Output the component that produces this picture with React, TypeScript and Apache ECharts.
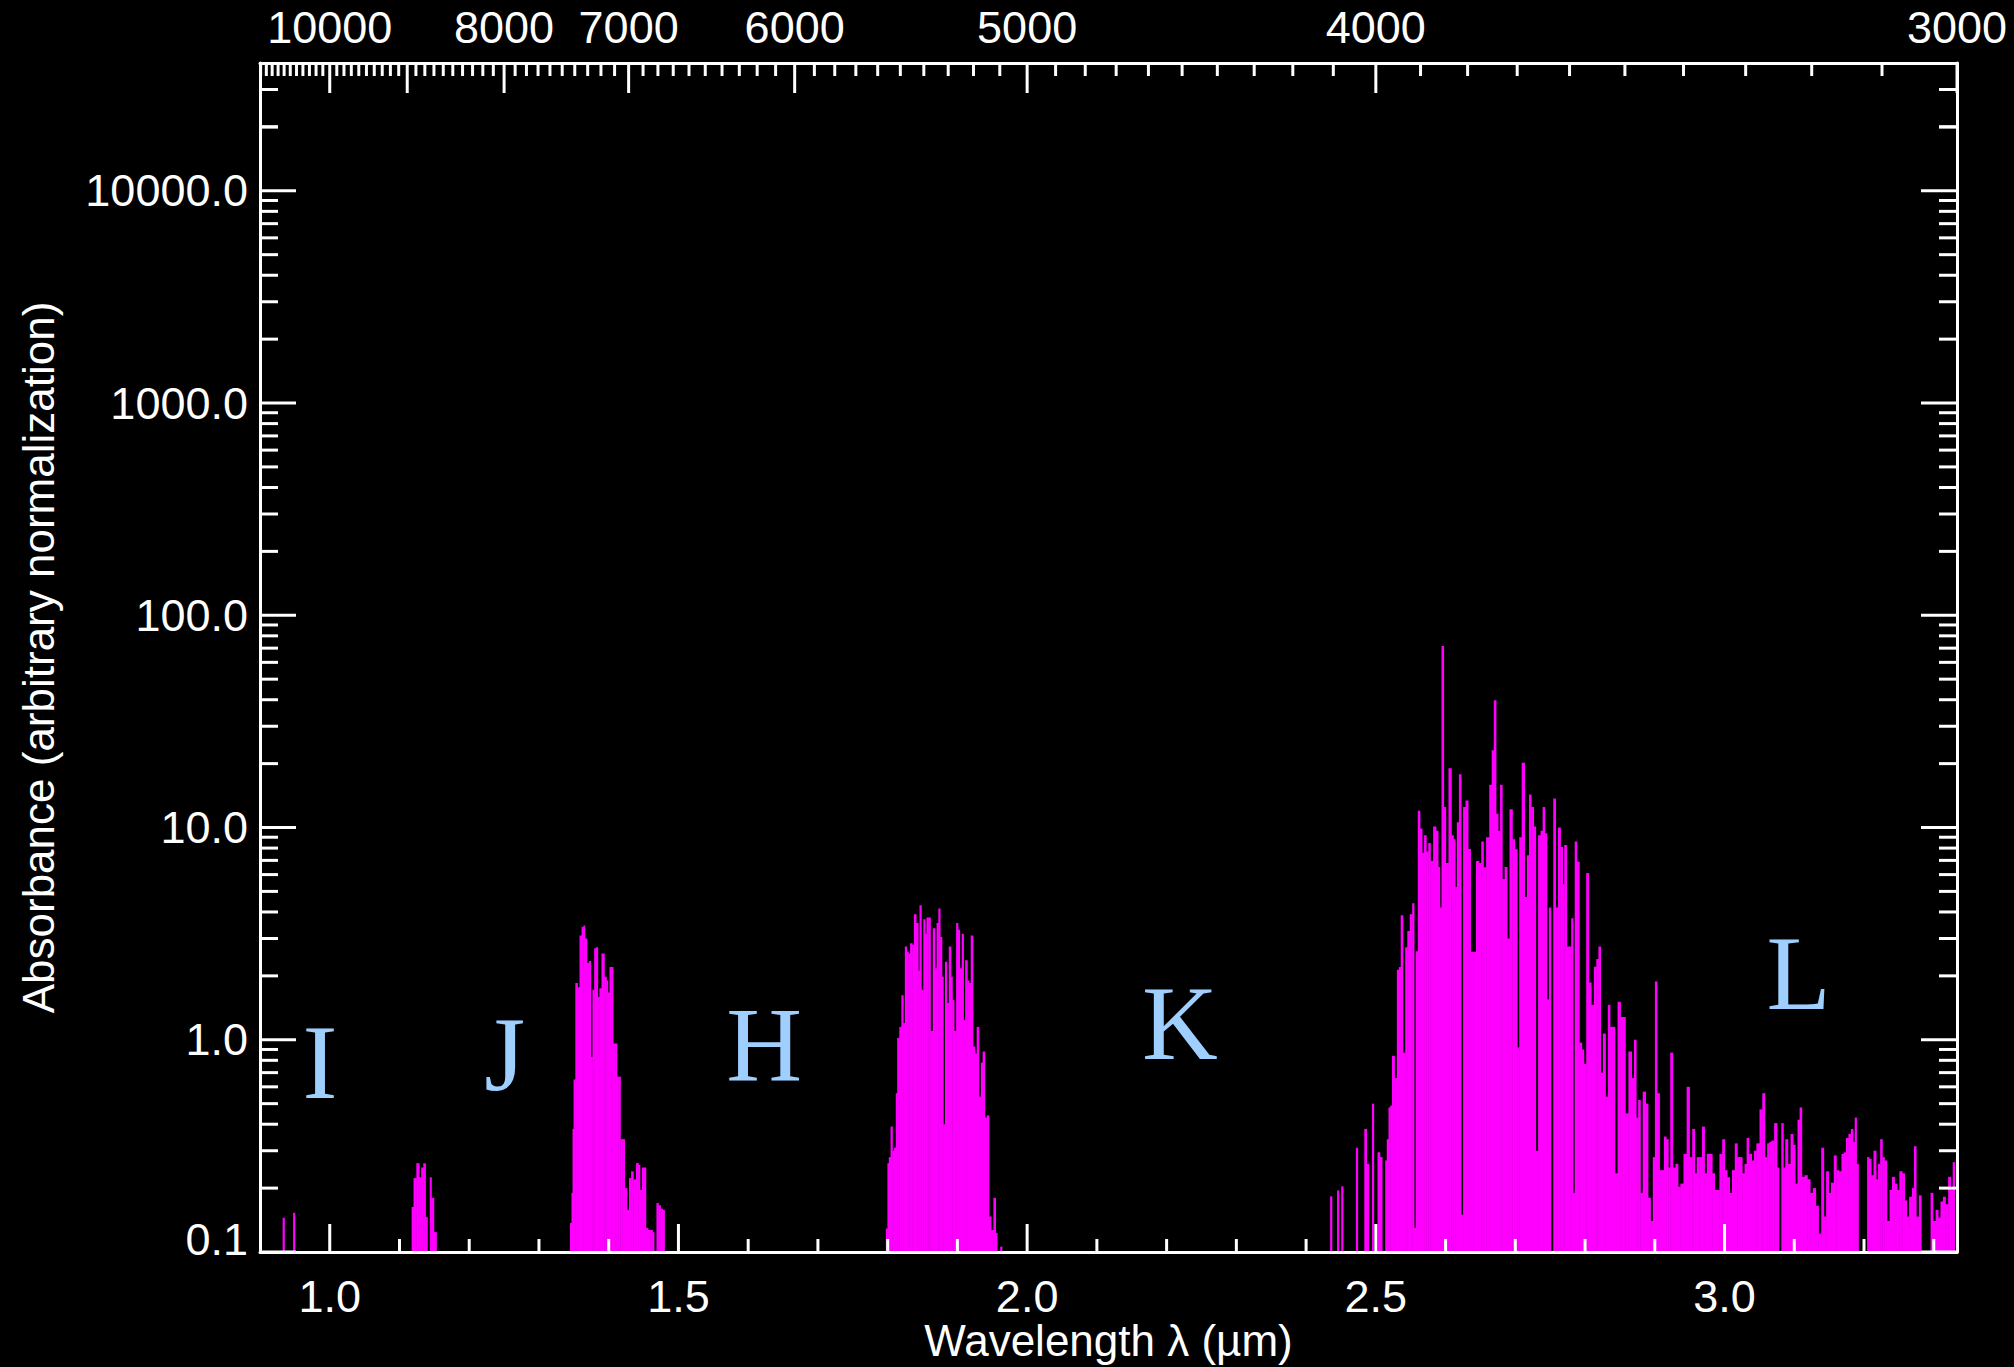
import React, { useEffect, useRef } from "react";
import * as echarts from "echarts";

// ---------- axis ranges ----------
const WL_MIN = 0.9;
const WL_MAX = 10000 / 3000;
const ABS_MIN = 0.1;
const ABS_MAX = 40000;

// ---------- spectrum (wavelength in µm, absorbance) ----------
const bandA_wl = [0.934, 0.949];
const bandA_abs = [0.145, 0.153];

const bandB_wl = [1.119, 1.122, 1.127, 1.13, 1.133, 1.136, 1.139, 1.145, 1.147, 1.152];
const bandB_abs = [0.163, 0.223, 0.262, 0.225, 0.25, 0.262, 0.146, 0.225, 0.18, 0.124];

const bandC_wl = [
  1.346, 1.348, 1.349, 1.351, 1.354, 1.357, 1.36, 1.363, 1.365, 1.367,
  1.371, 1.373, 1.376, 1.378, 1.381, 1.383, 1.386, 1.388, 1.392, 1.396,
  1.398, 1.4, 1.403, 1.405, 1.408, 1.411, 1.413, 1.415, 1.419, 1.421,
  1.425, 1.428, 1.431, 1.434, 1.437, 1.442, 1.444, 1.446, 1.45, 1.452,
  1.455, 1.458, 1.462, 1.464, 1.47, 1.473, 1.476, 1.479,
];
const bandC_abs = [
  0.137, 0.19, 0.38, 0.65, 1.85, 1.77, 3.1, 3.4, 3.45, 3.0,
  2.3, 2.35, 0.83, 1.72, 2.7, 2.73, 1.59, 1.75, 2.55, 1.98,
  1.9, 1.67, 2.2, 2.2, 0.96, 0.96, 0.67, 0.67, 0.34, 0.34,
  0.2, 0.158, 0.223, 0.24, 0.22, 0.262, 0.257, 0.196, 0.25, 0.25,
  0.13, 0.127, 0.127, 0.124, 0.17, 0.166, 0.16, 0.158,
];

const bandD_wl = [
  1.799, 1.801, 1.803, 1.806, 1.808, 1.811, 1.813, 1.815, 1.819, 1.821,
  1.824, 1.826, 1.829, 1.831, 1.834, 1.837, 1.839, 1.843, 1.845, 1.847,
  1.85, 1.853, 1.855, 1.857, 1.86, 1.863, 1.867, 1.869, 1.872, 1.874,
  1.877, 1.879, 1.881, 1.884, 1.886, 1.89, 1.892, 1.894, 1.897, 1.9,
  1.902, 1.905, 1.908, 1.91, 1.913, 1.916, 1.918, 1.921, 1.924, 1.927,
  1.929, 1.933, 1.935, 1.938, 1.941, 1.944, 1.947, 1.95, 1.954, 1.956,
  1.963,
];
const bandD_abs = [
  0.129, 0.262, 0.28, 0.39, 0.3, 0.31, 0.56, 1.02, 1.15, 1.62,
  1.2, 2.75, 2.6, 2.55, 2.85, 2.8, 3.9, 3.55, 2.12, 4.3,
  1.72, 3.7, 3.16, 3.77, 3.77, 1.1, 3.35, 2.17, 3.55, 4.15,
  3.05, 1.98, 0.4, 2.33, 1.49, 2.75, 1.98, 1.54, 1.1, 3.55,
  3.3, 2.17, 3.16, 1.24, 2.37, 1.9, 1.85, 3.1, 0.93, 0.86,
  1.15, 0.54, 0.78, 0.88, 0.43, 0.44, 0.147, 0.127, 0.18, 0.123,
  0.106,
];

const bandE1_wl = [
  2.436, 2.446, 2.452, 2.473, 2.485, 2.489, 2.496, 2.504, 2.508, 2.515,
  2.517, 2.52, 2.522, 2.525, 2.529, 2.532, 2.535, 2.537, 2.541, 2.544,
  2.547, 2.551, 2.554, 2.556, 2.559, 2.562, 2.565, 2.568, 2.571, 2.574,
  2.577, 2.58, 2.585, 2.588, 2.591, 2.593, 2.596, 2.599, 2.602, 2.607,
  2.61, 2.613, 2.615, 2.618, 2.621, 2.624, 2.627, 2.631, 2.634, 2.638,
  2.642, 2.646, 2.65, 2.653, 2.656, 2.661, 2.665, 2.668, 2.671, 2.674,
  2.677, 2.68, 2.683, 2.687, 2.69, 2.694, 2.698, 2.701, 2.705, 2.707,
  2.712, 2.715, 2.719, 2.721, 2.725, 2.728, 2.731, 2.735, 2.738, 2.741,
  2.744, 2.747, 2.75,
];
const bandE1_abs = [
  0.183, 0.195, 0.204, 0.31, 0.38, 0.26, 0.5, 0.295, 0.28, 0.27,
  0.34, 0.48, 0.49, 0.84, 0.66, 2.14, 2.2, 3.86, 0.87, 2.73,
  3.25, 3.9, 4.4, 0.13, 2.61, 12.0, 9.9, 7.6, 9.2, 7.7,
  8.46, 6.96, 10.1, 9.65, 6.52, 4.2, 71.7, 12.5, 6.8, 19.0,
  9.2, 8.8, 5.24, 10.6, 17.8, 0.15, 12.5, 13.4, 7.92, 2.6,
  2.6, 6.96, 6.8, 8.6, 6.5, 9.0, 15.9, 23.1, 39.8, 11.6,
  9.65, 15.9, 5.72, 6.52, 3.0, 12.2, 8.8, 7.9, 0.92, 9.0,
  20.2, 4.7, 7.4, 14.3, 12.5, 10.1, 0.3, 9.2, 9.65, 12.5,
  9.4, 1.55, 4.2,
];

const bandE2_wl = [
  2.756, 2.76, 2.763, 2.767, 2.769, 2.772, 2.776, 2.779, 2.782, 2.784,
  2.787, 2.79, 2.794, 2.797, 2.8, 2.804, 2.807, 2.811, 2.815, 2.818,
  2.821, 2.824, 2.828, 2.831, 2.835, 2.837, 2.841, 2.845, 2.849, 2.853,
  2.856, 2.86, 2.865, 2.869, 2.872, 2.875, 2.878, 2.881, 2.885, 2.889,
  2.892, 2.896, 2.899, 2.902, 2.905, 2.909, 2.912, 2.915, 2.918, 2.921,
  2.924, 2.928, 2.932, 2.935, 2.939, 2.944, 2.948, 2.952, 2.956, 2.959,
  2.962, 2.966, 2.97, 2.973, 2.977, 2.981, 2.984, 2.988, 2.991, 2.995,
  2.999, 3.002, 3.006, 3.009, 3.013, 3.017, 3.02, 3.024, 3.027, 3.031,
  3.033, 3.037, 3.041, 3.044, 3.048,
];
const bandE2_abs = [
  13.7, 4.2, 10.0, 8.1, 5.4, 8.28, 2.75, 2.75, 3.74, 0.19,
  8.6, 6.9, 0.97, 0.9, 0.77, 6.1, 1.86, 1.46, 2.21, 2.4,
  2.75, 0.7, 1.07, 0.54, 1.46, 1.15, 1.15, 0.235, 1.51, 1.28,
  1.28, 0.45, 0.88, 0.66, 1.0, 0.43, 0.52, 0.19, 0.57, 0.5,
  0.18, 0.14, 0.28, 1.88, 0.56, 0.243, 0.243, 0.35, 0.34, 0.25,
  0.87, 0.25, 0.26, 0.203, 0.21, 0.29, 0.6, 0.28, 0.38, 0.235,
  0.28, 0.28, 0.39, 0.235, 0.29, 0.29, 0.235, 0.196, 0.196, 0.29,
  0.34, 0.243, 0.225, 0.19, 0.243, 0.325, 0.28, 0.28, 0.235, 0.26,
  0.345, 0.29, 0.27, 0.3, 0.325,
];

const bandE3_wl = [
  3.053, 3.056, 3.06, 3.063, 3.066, 3.069, 3.074, 3.077, 3.083, 3.086,
  3.089, 3.093, 3.097, 3.1, 3.103, 3.107, 3.109, 3.113, 3.117, 3.121,
  3.125, 3.129, 3.133, 3.137, 3.141, 3.144, 3.148, 3.151, 3.155, 3.159,
  3.162, 3.166, 3.17, 3.173, 3.176, 3.18, 3.183, 3.186, 3.188, 3.191,
  3.206, 3.209, 3.212, 3.216, 3.219, 3.222, 3.225, 3.228, 3.231, 3.235,
  3.239, 3.242, 3.246, 3.249, 3.253, 3.257, 3.26, 3.263, 3.267, 3.271,
  3.273, 3.277, 3.281, 3.297, 3.301, 3.305, 3.308, 3.312, 3.315, 3.319,
  3.323, 3.326, 3.329,
];
const bandE3_abs = [
  0.47, 0.56, 0.28, 0.325, 0.33, 0.335, 0.405, 0.25, 0.405, 0.25,
  0.34, 0.26, 0.36, 0.32, 0.21, 0.42, 0.48, 0.226, 0.23, 0.22,
  0.19, 0.2, 0.165, 0.122, 0.31, 0.147, 0.24, 0.19, 0.212, 0.285,
  0.243, 0.24, 0.29, 0.295, 0.345, 0.36, 0.38, 0.33, 0.43, 0.26,
  0.28, 0.275, 0.23, 0.3, 0.22, 0.26, 0.34, 0.28, 0.27, 0.14,
  0.196, 0.226, 0.21, 0.196, 0.24, 0.235, 0.175, 0.147, 0.182, 0.2,
  0.315, 0.147, 0.185, 0.19, 0.14, 0.158, 0.145, 0.173, 0.182, 0.168,
  0.226, 0.196, 0.265,
];

// ---------- photometric band labels ----------
const bandNames = ["I", "J", "H", "K", "L"];
const bandLabelWl = [0.986, 1.251, 1.623, 2.219, 3.106];
const bandLabelAbs = [0.78, 0.85, 0.955, 1.19, 2.05];

// ---------- ticks ----------
const bottomMajorTicks = [1.0, 1.5, 2.0, 2.5, 3.0];
const bottomMinorTicks = [1.1, 1.2, 1.3, 1.4, 1.6, 1.7, 1.8, 1.9, 2.1, 2.2, 2.3, 2.4, 2.6, 2.7, 2.8, 2.9, 3.1, 3.2, 3.3];
const topLabelWavenumbers = [10000, 8000, 7000, 6000, 5000, 4000, 3000];
const topMajorWavenumbers = [10000, 9000, 8000, 7000, 6000, 5000, 4000, 3000];
const topMinorStepWn = 100;
const yMajorTicks = [0.1, 1, 10, 100, 1000, 10000];
const yMinorFactors = [2, 3, 4, 5, 6, 7, 8, 9];

// ---------- styles ----------
const MAGENTA = "#ff00ff";
const BAND_COLOR = "#9fcfff";
const WHITE = "#ffffff";
const SANS = "Liberation Sans";
const TICK_FONT = 45;
const TITLE_FONT = 44;
const JOIN_PX = 4.0;
const LINE_HALF = 1.1;

// ---------- build tables ----------
const specPairs: number[][] = [];
[
  [bandA_wl, bandA_abs],
  [bandB_wl, bandB_abs],
  [bandC_wl, bandC_abs],
  [bandD_wl, bandD_abs],
  [bandE1_wl, bandE1_abs],
  [bandE2_wl, bandE2_abs],
  [bandE3_wl, bandE3_abs],
].forEach(([w, a]) => w.forEach((x, i) => specPairs.push([x, a[i]])));
specPairs.sort((p, q) => p[0] - q[0]);
const specWl = specPairs.map((p) => p[0]);

const tickItems: number[][] = [];
bottomMajorTicks.forEach((v) => tickItems.push([v, ABS_MIN, 0, -28]));
bottomMinorTicks.forEach((v) => tickItems.push([v, ABS_MIN, 0, -13]));
const topMajorSet = new Set(topMajorWavenumbers);
topMajorWavenumbers.forEach((n) => tickItems.push([10000 / n, ABS_MAX, 0, 30]));
for (let n = 3000 + topMinorStepWn; n < 10000 / WL_MIN; n += topMinorStepWn) {
  if (!topMajorSet.has(n)) tickItems.push([10000 / n, ABS_MAX, 0, 13]);
}
yMajorTicks.forEach((v) => {
  tickItems.push([WL_MIN, v, 36, 0]);
  tickItems.push([WL_MAX, v, -36, 0]);
  yMinorFactors.forEach((f) => {
    const m = v * f;
    if (m < ABS_MAX) {
      tickItems.push([WL_MIN, m, 18, 0]);
      tickItems.push([WL_MAX, m, -18, 0]);
    }
  });
});
tickItems.push([WL_MIN, 20000, 18, 0], [WL_MAX, 20000, -18, 0], [WL_MIN, 30000, 18, 0], [WL_MAX, 30000, -18, 0]);

const axisLineStyle = { color: WHITE, width: 3 };

const option: any = {
  animation: false,
  backgroundColor: "#000000",
  grid: { left: 260, right: 57, top: 63, bottom: 115, containLabel: false, outerBoundsMode: "none" },
  xAxis: [
    {
      type: "value",
      position: "bottom",
      min: WL_MIN,
      max: WL_MAX,
      z: 10,
      axisLine: { show: true, lineStyle: axisLineStyle },
      axisTick: { show: false },
      splitLine: { show: false },
      axisLabel: {
        show: true,
        customValues: bottomMajorTicks,
        formatter: (v: number) => Number(v).toFixed(1),
        color: WHITE,
        fontSize: TICK_FONT,
        fontFamily: SANS,
        lineHeight: 40,
        margin: 24,
      },
      name: "Wavelength λ (µm)",
      nameLocation: "middle",
      nameGap: 65,
      nameMoveOverlap: false,
      nameTextStyle: { color: WHITE, fontSize: TITLE_FONT, fontFamily: SANS, lineHeight: 46 },
    },
    {
      type: "value",
      position: "top",
      min: WL_MIN,
      max: WL_MAX,
      z: 10,
      axisLine: { show: true, lineStyle: axisLineStyle },
      axisTick: { show: false },
      splitLine: { show: false },
      axisLabel: {
        show: true,
        customValues: topLabelWavenumbers.map((n) => 10000 / n),
        formatter: (v: number) => String(Math.round(10000 / v)),
        color: WHITE,
        fontSize: TICK_FONT,
        fontFamily: SANS,
        margin: 13,
        showMaxLabel: true,
        showMinLabel: true,
      },
    },
  ],
  yAxis: [
    {
      type: "log",
      logBase: 10,
      position: "left",
      min: ABS_MIN,
      max: ABS_MAX,
      z: 10,
      axisLine: { show: true, lineStyle: axisLineStyle },
      axisTick: { show: false },
      minorTick: { show: false },
      splitLine: { show: false },
      axisLabel: {
        show: true,
        showMaxLabel: false,
        showMinLabel: true,
        color: WHITE,
        fontSize: TICK_FONT,
        fontFamily: SANS,
        margin: 12,
        formatter: (v: number) => {
          const s = Number(v).toFixed(1);
          return Number(v) < 0.5 ? "{lo|" + s + "}" : s;
        },
        rich: {
          lo: { color: WHITE, fontSize: TICK_FONT, fontFamily: SANS, padding: [0, 0, 26, 0] },
        },
      },
      name: "Absorbance (arbitrary normalization)",
      nameLocation: "middle",
      nameGap: 200,
      nameMoveOverlap: false,
      nameTextStyle: { color: WHITE, fontSize: TITLE_FONT, fontFamily: SANS },
    },
    {
      type: "log",
      logBase: 10,
      position: "right",
      min: ABS_MIN,
      max: ABS_MAX,
      z: 10,
      axisLine: { show: true, lineStyle: axisLineStyle },
      axisTick: { show: false },
      splitLine: { show: false },
      axisLabel: { show: false },
    },
  ],
  series: [
    {
      type: "custom",
      name: "Absorbance",
      xAxisIndex: 0,
      yAxisIndex: 0,
      z: 2,
      clip: true,
      data: specPairs,
      renderItem: (params: any, api: any) => {
        const i = params.dataIndex;
        const top = api.coord([api.value(0), api.value(1)]);
        const base = api.coord([api.value(0), ABS_MIN]);
        const prevX = i > 0 ? api.coord([specWl[i - 1], ABS_MIN])[0] : -1e9;
        const nextX = i < specWl.length - 1 ? api.coord([specWl[i + 1], ABS_MIN])[0] : 1e9;
        const dl = top[0] - prevX;
        const dr = nextX - top[0];
        const hl = dl <= JOIN_PX ? dl / 2 + 0.25 : LINE_HALF;
        const hr = dr <= JOIN_PX ? dr / 2 + 0.25 : LINE_HALF;
        return {
          type: "rect",
          shape: { x: top[0] - hl, y: top[1], width: hl + hr, height: base[1] - top[1] },
          style: { fill: MAGENTA },
        };
      },
    },
    {
      type: "custom",
      name: "ticks",
      xAxisIndex: 0,
      yAxisIndex: 0,
      z: 6,
      silent: true,
      data: tickItems,
      renderItem: (params: any, api: any) => {
        const p = api.coord([api.value(0), api.value(1)]);
        const dx = api.value(2);
        const dy = api.value(3);
        return {
          type: "line",
          shape: { x1: p[0], y1: p[1], x2: p[0] + dx, y2: p[1] + dy },
          style: { stroke: WHITE, lineWidth: 3 },
        };
      },
    },
    {
      type: "custom",
      name: "bands",
      xAxisIndex: 0,
      yAxisIndex: 0,
      z: 5,
      silent: true,
      data: bandNames.map((_, i) => [bandLabelWl[i], bandLabelAbs[i]]),
      renderItem: (params: any, api: any) => {
        const p = api.coord([api.value(0), api.value(1)]);
        return {
          type: "text",
          x: p[0],
          y: p[1],
          style: {
            text: bandNames[params.dataIndex],
            fill: BAND_COLOR,
            fontSize: 105,
            fontFamily: "Liberation Serif",
            align: "center",
            verticalAlign: "middle",
          },
        };
      },
    },
  ],
};

export default function App() {
  const ref = useRef<HTMLDivElement>(null);
  useEffect(() => {
    if (!ref.current) return;
    const chart = echarts.init(ref.current, null, { renderer: "svg", width: 2014, height: 1367 });
    chart.setOption(option);
    return () => chart.dispose();
  }, []);
  return (
    <div
      ref={ref}
      style={{ position: "fixed", left: 0, top: 0, width: 2014, height: 1367, background: "#000" }}
    />
  );
}
